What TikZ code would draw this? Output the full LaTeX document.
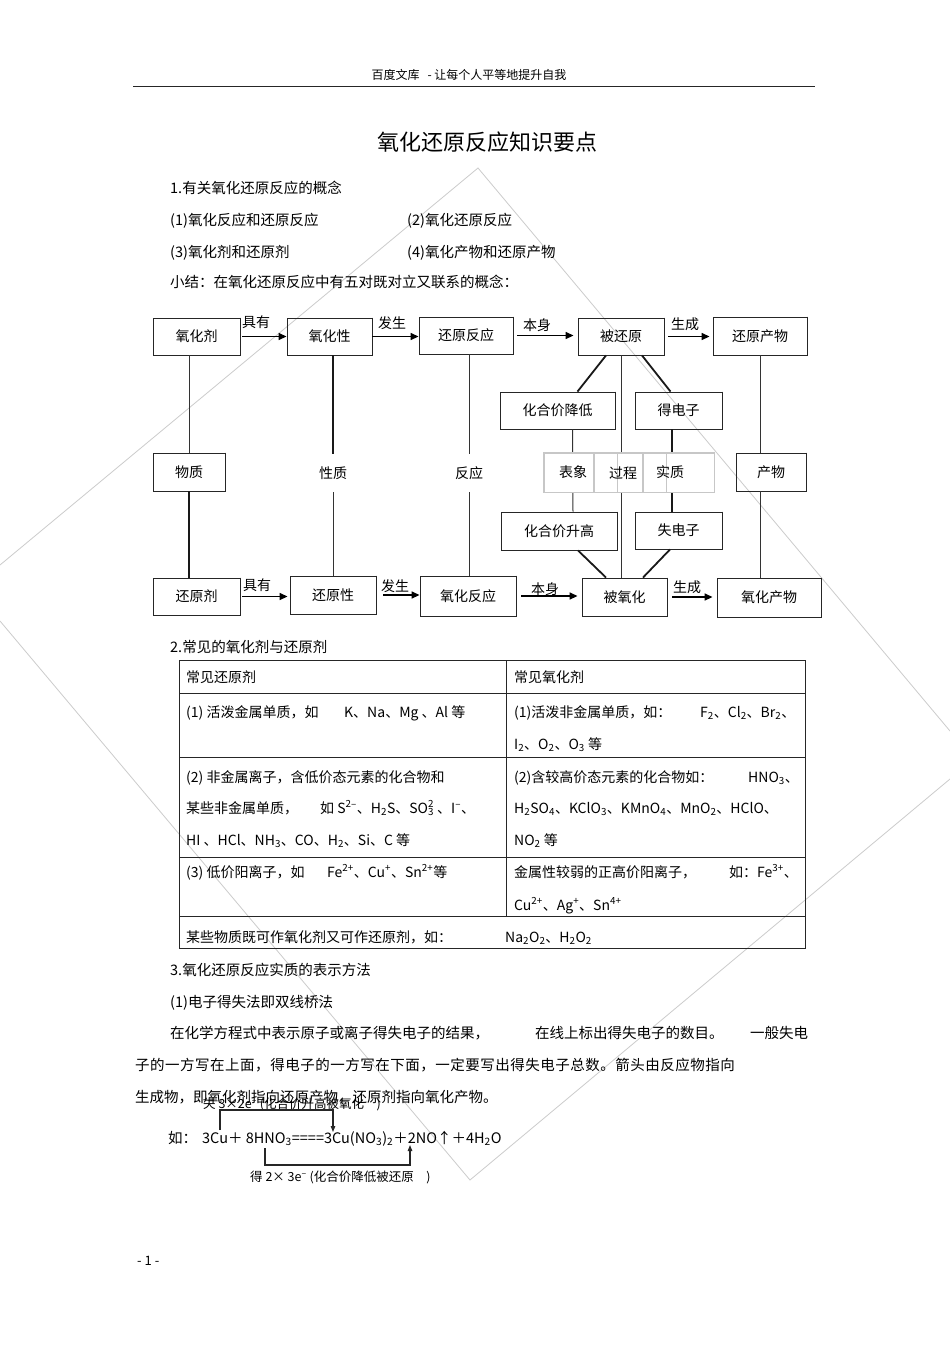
\documentclass[tikz,border=0pt]{standalone}
\usepackage{fontspec}
\setmainfont{Noto Sans CJK SC}
\newfontfamily\cjkls[LetterSpace=3.5]{Noto Sans CJK SC}
\usetikzlibrary{arrows.meta}
\newcommand\dn[1]{\textsubscript{#1}}
\newcommand\up[1]{\textsuperscript{#1}}
\begin{document}
\begin{tikzpicture}[x=1pt,y=-1pt,
  tx/.style={anchor=base west, inner sep=0pt, font=\fontsize{14.5}{17}\selectfont},
  tb/.style={anchor=base west, inner sep=0pt, font=\fontsize{14}{17}\selectfont},
  bx/.style={draw=black!85, line width=0.9pt, inner sep=0pt, minimum height=37pt, font=\fontsize{14}{17}\selectfont},
  boxedge/.style={draw=black!85, line width=1.8pt},
  lbl/.style={inner sep=0pt, font=\fontsize{14}{17}\selectfont},
  vlab/.style={inner sep=0pt, minimum height=38pt, font=\fontsize{14}{17}\selectfont},
  arr/.style={draw=black, line width=1.5pt, -{Triangle[length=8pt,width=7pt]}},
  ln/.style={draw=black!80, line width=1pt},
  lnb/.style={draw=black!90, line width=1.8pt},
  gbox/.style={draw=black!22, line width=0.8pt, fill=white, minimum height=39pt, inner sep=0pt},
  gline/.style={draw=black!22, line width=0.8pt},
  tline/.style={draw=black!85, line width=1pt},
  wmark/.style={draw=black!20, line width=0.8pt},
  brk/.style={draw=black!85, line width=1.1pt},
  brka/.style={brk, -{Triangle[length=6pt,width=4.5pt]}},
]
\useasboundingbox[fill=white] (0,0) rectangle (950,1345);

% watermark
\draw[wmark] (0,565) -- (478,168) -- (950,731);
\draw[wmark] (0,621) -- (470,1180) -- (950,779);

% header
\node[inner sep=0pt, font=\fontsize{12}{14}\selectfont] (hdr) at (469,75) {百度文库\ \ \ -\ 让每个人平等地提升自我};
\coordinate (rl) at (133,86);
\coordinate (rr0) at (815,86);
\draw[line width=1pt, black!85] (rl) -- (rr0);
\node[inner sep=0pt, font=\fontsize{22}{24}\selectfont] (title) at (487,142) {氧化还原反应知识要点};

% section 1
\node[tx] (s1) at (170,193) {1.有关氧化还原反应的概念};
\node[tx] (s1a) at (170,225) {(1)氧化反应和还原反应};
\node[tx] (s1b) at (407,225) {(2)氧化还原反应};
\node[tx] (s1c) at (170,257) {(3)氧化剂和还原剂};
\node[tx] (s1d) at (407,257) {(4)氧化产物和还原产物};
\node[tx] (s1e) at (170,287) {小结：在氧化还原反应中有五对既对立又联系的概念：};

% diagram boxes
\node[bx, minimum width=87pt] (ox) at (196.5,336.5) {氧化剂};
\node[bx, minimum width=85pt] (oxp) at (329.5,336.5) {氧化性};
\node[bx, minimum width=94pt] (rr) at (466,335.5) {还原反应};
\node[bx, minimum width=86pt] (br) at (621,336.5) {被还原};
\node[bx, minimum width=94pt, minimum height=38pt] (rp) at (760,336) {还原产物};
\node[bx, minimum width=115pt] (jd) at (557.5,410.5) {化合价降低};
\node[bx, minimum width=87pt] (de) at (678.5,410.5) {得电子};
\node[bx, minimum width=72pt, minimum height=38pt] (wz) at (189,472) {物质};
\node[bx, minimum width=70pt, minimum height=38pt] (cw) at (771,472) {产物};
\node[bx, minimum width=116pt, minimum height=38pt] (sg) at (559,531) {化合价升高};
\node[bx, minimum width=87pt] (se) at (678.5,530.5) {失电子};
\node[bx, minimum width=87pt] (rd) at (196.5,596.5) {还原剂};
\node[bx, minimum width=86pt, minimum height=38pt] (rx) at (333,595) {还原性};
\node[bx, minimum width=96pt, minimum height=40pt] (oxr) at (468,596) {氧化反应};
\node[bx, minimum width=85pt, minimum height=38pt] (bo) at (624.5,597) {被氧化};
\node[bx, minimum width=104pt, minimum height=39pt] (op) at (769,597.5) {氧化产物};
\foreach \n in {ox,oxp,rr,br,rp,jd,de,wz,cw,sg,se,rd,rx,oxr,bo,op}
  \draw[boxedge] (\n.north east) -- (\n.south east) -- (\n.south west);

% free labels
\node[vlab] (xz) at (333,473) {性质};
\node[vlab] (fy) at (469,473) {反应};

% vertical / diagonal connectors
\draw[ln] (ox.south -| wz.north) -- (wz.north);
\draw[lnb] (wz.south) -- (wz.south |- rd.north);
\draw[lnb] (oxp.south -| xz.north) -- (xz.north);
\draw[ln] (xz.south) -- (xz.south |- rx.north);
\draw[ln] (rr.south -| fy.north) -- (fy.north);
\draw[ln] (fy.south) -- (fy.south |- oxr.north);
\draw[ln] (rp.south) -- (rp.south |- cw.north);
\draw[ln] (rp.south |- cw.south) -- (rp.south |- op.north);
\draw[lnb] ([xshift=-15pt]br.south) -- ([xshift=20pt]jd.north);
\draw[lnb] ([xshift=21pt]br.south) -- ([xshift=-8pt]de.north);
\draw[ln] (br.south) -- (br.south |- bo.north);
\draw[ln] ([xshift=15pt]jd.south) -- ([xshift=14pt]sg.north);
\draw[lnb] ([xshift=-6.5pt]de.south) -- ([xshift=-6.5pt]se.north);
\draw[lnb] ([xshift=19pt]sg.south) -- ([xshift=-18.5pt]bo.north);
\draw[lnb] ([xshift=-8.5pt]se.south) -- ([xshift=18.5pt]bo.north);

% grey label boxes
\node[gbox, minimum width=73pt] (g1) at (580.5,472.5) {};
\node[gbox, minimum width=72pt] (g2) at (630,472.5) {};
\node[gbox, minimum width=71pt] (g3) at (678.5,472.5) {};
\foreach \g in {g1,g2,g3}
  \draw[gline] (\g.north west) rectangle (\g.south east);
\node[lbl] (bx1) at (573,472) {表象};
\node[lbl] (bx2) at (623,473) {过程};
\node[lbl] (bx3) at (670,472) {实质};

% arrows
\draw[arr, shorten <=2pt] (ox.east) -- (ox.east -| oxp.west);
\draw[arr] (oxp.east) -- (oxp.east -| rr.west);
\draw[arr, shorten <=4pt, shorten >=4pt] (rr.east) -- (rr.east -| br.west);
\draw[arr, shorten <=4pt, shorten >=3pt] (br.east) -- (br.east -| rp.west);
\draw[arr, shorten <=2pt, shorten >=2pt] (rd.east) -- (rd.east -| rx.west);
\draw[arr, shorten <=7pt] (rx.east) -- (rx.east -| oxr.west);
\draw[arr, shorten <=5pt, shorten >=4pt] (oxr.east) -- (oxr.east -| bo.west);
\draw[arr, shorten <=5pt, shorten >=4pt] (bo.east) -- (bo.east -| op.west);
\node[lbl] (l1) at (256,322) {具有};
\node[lbl] (l2) at (392,323) {发生};
\node[lbl] (l3) at (537,325) {本身};
\node[lbl] (l4) at (685,324) {生成};
\node[lbl] (l5) at (257,585) {具有};
\node[lbl] (l6) at (395,586) {发生};
\node[lbl] (l7) at (545,589) {本身};
\node[lbl] (l8) at (687,587) {生成};

% section 2
\node[tx] (s2) at (170,652) {2.常见的氧化剂与还原剂};
\coordinate (tnw) at (179,660);
\coordinate (tse) at (805,948);
\draw[tline] (tnw) rectangle (tse);
\foreach \yy in {693,757,857,916} \draw[tline] (179,\yy) -- (805,\yy);
\draw[tline] (506,660) -- (506,916);
\node[tb] (h1) at (186,682) {常见还原剂};
\node[tb] (h2) at (514,682) {常见氧化剂};
\node[tb] (a1) at (186,717) {(1) 活泼金属单质，如};
\node[tb] (a1b) at (344,717) {K、Na、Mg 、Al 等};
\node[tb] (b1) at (514,717) {(1)活泼非金属单质，如：};
\node[tb] (b1b) at (700,717) {F\dn{2}、Cl\dn{2}、Br\dn{2}、};
\node[tb] (b1c) at (514,749) {I\dn{2}、O\dn{2}、O\dn{3} 等};
\node[tb] (a2) at (186,782) {(2) 非金属离子，含低价态元素的化合物和};
\node[tb] (a2b) at (186,813) {某些非金属单质，};
\node[tb] (a2c) at (320,813) {如 S\up{2–}、H\dn{2}S、SO\rlap{\up{2}}\dn{3} 、I\up{–}、};
\node[tb] (a2d) at (186,845) {HI 、HCl、NH\dn{3}、CO、H\dn{2}、Si、C 等};
\node[tb] (b2) at (514,782) {(2)含较高价态元素的化合物如：};
\node[tb] (b2b) at (748,782) {HNO\dn{3}、};
\node[tb] (b2c) at (514,813) {H\dn{2}SO\dn{4}、KClO\dn{3}、KMnO\dn{4}、MnO\dn{2}、HClO、};
\node[tb] (b2d) at (514,845) {NO\dn{2} 等};
\node[tb] (a3) at (186,877) {(3) 低价阳离子，如};
\node[tb] (a3b) at (327,877) {Fe\up{2+}、Cu\up{+}、Sn\up{2+}等};
\node[tb] (b3) at (514,877) {金属性较弱的正高价阳离子，};
\node[tb] (b3b) at (729,877) {如：Fe\up{3+}、};
\node[tb] (b3c) at (514,910) {Cu\up{2+}、Ag\up{+}、Sn\up{4+}};
\node[tb] (a4) at (186,942) {某些物质既可作氧化剂又可作还原剂，如：};
\node[tb] (a4b) at (505,942) {Na\dn{2}O\dn{2}、H\dn{2}O\dn{2}};

% section 3
\node[tx] (s3) at (170,975) {3.氧化还原反应实质的表示方法};
\node[tx] (s3a) at (170,1007) {(1)电子得失法即双线桥法};
\node[tx] (p1) at (170,1038) {在化学方程式中表示原子或离子得失电子的结果，};
\node[tx] (p1b) at (535,1038) {在线上标出得失电子的数目。};
\node[tx] (p1c) at (750,1038) {一般失电};
\node[tx, font=\fontsize{14.5}{17}\cjkls] (p2) at (135,1070) {子的一方写在上面，得电子的一方写在下面，一定要写出得失电子总数。箭头由反应物指向};
\node[tx] (p3) at (135,1102) {生成物，即氧化剂指向还原产物，还原剂指向氧化产物。};

\node[anchor=base west, inner sep=0pt, font=\fontsize{12.5}{14}\selectfont] (ul) at (203,1108) {失 3×2e\up{–} (化合价升高被氧化　)};
\node[tx] (eq0) at (168,1143) {如：};
\node[tx] (eq) at (202,1143) {3Cu＋ 8HNO\dn{3}====3Cu(NO\dn{3})\dn{2}＋2NO↑＋4H\dn{2}O};
\node[anchor=base west, inner sep=0pt, font=\fontsize{12.5}{14}\selectfont] (ll) at (250,1181) {得 2× 3e\up{–} (化合价降低被还原　)};

\coordinate (ua) at (220,1130);
\coordinate (ub) at (333,1132);
\coordinate (ut) at (0,1110);
\draw[brka] (ua) -- (ua |- ut) -| (ub);
\coordinate (la) at (265,1148);
\coordinate (lb) at (410,1145);
\coordinate (lt) at (0,1165);
\draw[brka] (la) -- (la |- lt) -| (lb);

\node[anchor=base west, inner sep=0pt, font=\fontsize{13}{15}\selectfont] (ft) at (137,1265) {- 1 -};
\end{tikzpicture}
\end{document}
